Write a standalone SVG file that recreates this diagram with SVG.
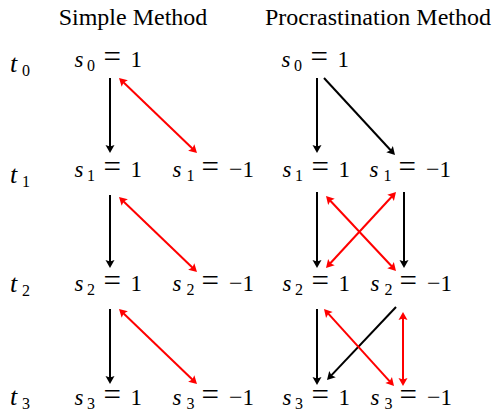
<svg xmlns="http://www.w3.org/2000/svg" width="495" height="414" viewBox="0 0 495 414">
<style>
.title{font-family:"Liberation Serif","Times New Roman",serif;font-size:24px;fill:#000;text-anchor:middle}
.m{font-family:"Liberation Serif","Times New Roman",serif;font-size:23px;fill:#000}
.tl{font-family:"Liberation Serif","Times New Roman",serif;font-size:26px;fill:#000}
.v{font-style:italic}
.sub{font-size:16px}
.eq{font-size:31px}
.mn{font-size:24px}
.k{stroke:#000;stroke-width:2;fill:none}
.r{stroke:#ff0000;stroke-width:2;fill:none}
.hk{fill:#000}
.hr{fill:#ff0000}
</style>
<defs>
<path id="head" d="M0,0 L-8,-4.5 L-6.5,0 L-8,4.5 z"/>
</defs>
<g id="titles">
<text class="title" x="133" y="25">Simple Method</text>
<text class="title" x="378" y="25">Procrastination Method</text>
</g>
<g id="row-labels">
<text id="t0" class="tl" x="10" y="72"><tspan class="v">t</tspan><tspan class="sub" x="22" y="76">0</tspan></text>
<text id="t1" class="tl" x="10" y="183"><tspan class="v">t</tspan><tspan class="sub" x="22" y="187">1</tspan></text>
<text id="t2" class="tl" x="10" y="292"><tspan class="v">t</tspan><tspan class="sub" x="22" y="296">2</tspan></text>
<text id="t3" class="tl" x="10" y="405"><tspan class="v">t</tspan><tspan class="sub" x="22" y="409">3</tspan></text>
</g>
<g id="simple-s0-1"><text class="m" x="74.5" y="67"><tspan class="v">s</tspan><tspan class="sub" x="87" y="70.5">0</tspan><tspan class="eq" x="103.5" y="67">=</tspan><tspan x="130.5">1</tspan></text></g>
<g id="simple-s1-1"><text class="m" x="74.5" y="177"><tspan class="v">s</tspan><tspan class="sub" x="87" y="180.5">1</tspan><tspan class="eq" x="103.5" y="177">=</tspan><tspan x="130.5">1</tspan></text></g>
<g id="simple-s1-m1"><text class="m" x="172.5" y="177"><tspan class="v">s</tspan><tspan class="sub" x="186.5" y="180.5">1</tspan><tspan class="eq" x="201.5" y="177">=</tspan><tspan class="mn" x="229">−</tspan><tspan x="242.5">1</tspan></text></g>
<g id="simple-s2-1"><text class="m" x="74.5" y="291"><tspan class="v">s</tspan><tspan class="sub" x="87" y="294.5">2</tspan><tspan class="eq" x="103.5" y="291">=</tspan><tspan x="130.5">1</tspan></text></g>
<g id="simple-s2-m1"><text class="m" x="172.5" y="291"><tspan class="v">s</tspan><tspan class="sub" x="186.5" y="294.5">2</tspan><tspan class="eq" x="201.5" y="291">=</tspan><tspan class="mn" x="229">−</tspan><tspan x="242.5">1</tspan></text></g>
<g id="simple-s3-1"><text class="m" x="74.5" y="405"><tspan class="v">s</tspan><tspan class="sub" x="87" y="408.5">3</tspan><tspan class="eq" x="103.5" y="405">=</tspan><tspan x="130.5">1</tspan></text></g>
<g id="simple-s3-m1"><text class="m" x="172.5" y="405"><tspan class="v">s</tspan><tspan class="sub" x="186.5" y="408.5">3</tspan><tspan class="eq" x="201.5" y="405">=</tspan><tspan class="mn" x="229">−</tspan><tspan x="242.5">1</tspan></text></g>
<g id="proc-s0-1"><text class="m" x="281.5" y="67"><tspan class="v">s</tspan><tspan class="sub" x="294" y="70.5">0</tspan><tspan class="eq" x="310.5" y="67">=</tspan><tspan x="337.5">1</tspan></text></g>
<g id="proc-s1-1"><text class="m" x="282.5" y="177"><tspan class="v">s</tspan><tspan class="sub" x="295" y="180.5">1</tspan><tspan class="eq" x="311.5" y="177">=</tspan><tspan x="338.5">1</tspan></text></g>
<g id="proc-s1-m1"><text class="m" x="369.5" y="177"><tspan class="v">s</tspan><tspan class="sub" x="383.5" y="180.5">1</tspan><tspan class="eq" x="398.5" y="177">=</tspan><tspan class="mn" x="426">−</tspan><tspan x="439.5">1</tspan></text></g>
<g id="proc-s2-1"><text class="m" x="282.5" y="291"><tspan class="v">s</tspan><tspan class="sub" x="295" y="294.5">2</tspan><tspan class="eq" x="311.5" y="291">=</tspan><tspan x="338.5">1</tspan></text></g>
<g id="proc-s2-m1"><text class="m" x="370.5" y="291"><tspan class="v">s</tspan><tspan class="sub" x="384.5" y="294.5">2</tspan><tspan class="eq" x="399.5" y="291">=</tspan><tspan class="mn" x="427">−</tspan><tspan x="440.5">1</tspan></text></g>
<g id="proc-s3-1"><text class="m" x="282.5" y="405"><tspan class="v">s</tspan><tspan class="sub" x="295" y="408.5">3</tspan><tspan class="eq" x="311.5" y="405">=</tspan><tspan x="338.5">1</tspan></text></g>
<g id="proc-s3-m1"><text class="m" x="370.5" y="405"><tspan class="v">s</tspan><tspan class="sub" x="384.5" y="408.5">3</tspan><tspan class="eq" x="399.5" y="405">=</tspan><tspan class="mn" x="427">−</tspan><tspan x="440.5">1</tspan></text></g>
<g id="connectors">
<line class="k" x1="110" y1="78" x2="110" y2="148"/>
<use href="#head" class="hk" transform="translate(110,153) rotate(90)"/>
<line class="r" x1="122.6" y1="81.5" x2="193.4" y2="149.5"/>
<use href="#head" class="hr" transform="translate(119,78) rotate(223.86)"/>
<use href="#head" class="hr" transform="translate(197,153) rotate(43.86)"/>
<line class="k" x1="110" y1="195" x2="110" y2="263"/>
<use href="#head" class="hk" transform="translate(110,268) rotate(90)"/>
<line class="r" x1="122.6" y1="200.5" x2="193.4" y2="268.5"/>
<use href="#head" class="hr" transform="translate(119,197) rotate(223.86)"/>
<use href="#head" class="hr" transform="translate(197,272) rotate(43.86)"/>
<line class="k" x1="110" y1="309" x2="110" y2="379"/>
<use href="#head" class="hk" transform="translate(110,384) rotate(90)"/>
<line class="r" x1="122.6" y1="312.5" x2="193.4" y2="380.5"/>
<use href="#head" class="hr" transform="translate(119,309) rotate(223.86)"/>
<use href="#head" class="hr" transform="translate(197,384) rotate(43.86)"/>
<line class="k" x1="317" y1="78" x2="317" y2="148"/>
<use href="#head" class="hk" transform="translate(317,153) rotate(90)"/>
<line class="k" x1="324" y1="78" x2="391.6" y2="151.3"/>
<use href="#head" class="hk" transform="translate(395,155) rotate(47.3)"/>
<line class="k" x1="317" y1="192" x2="317" y2="263"/>
<use href="#head" class="hk" transform="translate(317,268) rotate(90)"/>
<line class="k" x1="404" y1="192" x2="404" y2="263"/>
<use href="#head" class="hk" transform="translate(404,268) rotate(90)"/>
<line class="r" x1="329.4" y1="199.7" x2="392.6" y2="267.3"/>
<use href="#head" class="hr" transform="translate(326,196) rotate(227)"/>
<use href="#head" class="hr" transform="translate(396,271) rotate(47)"/>
<line class="r" x1="392.6" y1="195.7" x2="329.4" y2="264.3"/>
<use href="#head" class="hr" transform="translate(396,192) rotate(-47.35)"/>
<use href="#head" class="hr" transform="translate(326,268) rotate(132.65)"/>
<line class="k" x1="317" y1="309" x2="317" y2="380"/>
<use href="#head" class="hk" transform="translate(317,385) rotate(90)"/>
<line class="k" x1="396" y1="307" x2="330.4" y2="376.4"/>
<use href="#head" class="hk" transform="translate(327,380) rotate(133.4)"/>
<line class="r" x1="327.4" y1="312.7" x2="390.6" y2="382.3"/>
<use href="#head" class="hr" transform="translate(324,309) rotate(227.75)"/>
<use href="#head" class="hr" transform="translate(394,386) rotate(47.75)"/>
<line class="r" x1="403" y1="317" x2="403" y2="381"/>
<use href="#head" class="hr" transform="translate(403,312) rotate(-90)"/>
<use href="#head" class="hr" transform="translate(403,386) rotate(90)"/>
</g>
</svg>
